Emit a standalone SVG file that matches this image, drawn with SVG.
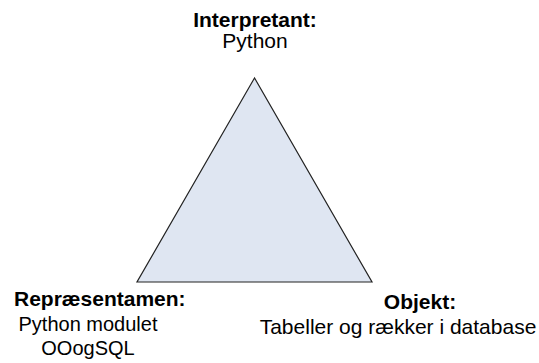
<svg xmlns="http://www.w3.org/2000/svg" width="539" height="363" viewBox="0 0 539 363">
<style>
text{font-family:"Liberation Sans",Arial,sans-serif;font-size:21px;fill:#000}
.b{font-weight:bold}
.m{text-anchor:middle}
.tri{fill:#dfe6f2;stroke:#222;stroke-width:1.2}
</style>
<rect width="539" height="363" fill="#fff"/>
<g id="triangle"><polygon class="tri" points="254.5,78 137,282 372,282"/></g>
<g id="connectors"></g>
<g id="interpretant">
<text class="b m" x="255" y="27">Interpretant:</text>
<text class="m" x="255" y="48">Python</text>
</g>
<g id="reprasentamen">
<text class="b" x="14" y="306">Repræsentamen:</text>
<text class="m" x="88" y="331" style="font-size:20px">Python modulet</text>
<text class="m" x="88" y="355" style="font-size:20px">OOogSQL</text>
</g>
<g id="objekt">
<text class="b m" x="420" y="309">Objekt:</text>
<text class="m" x="398" y="334">Tabeller og rækker i database</text>
</g>
</svg>
